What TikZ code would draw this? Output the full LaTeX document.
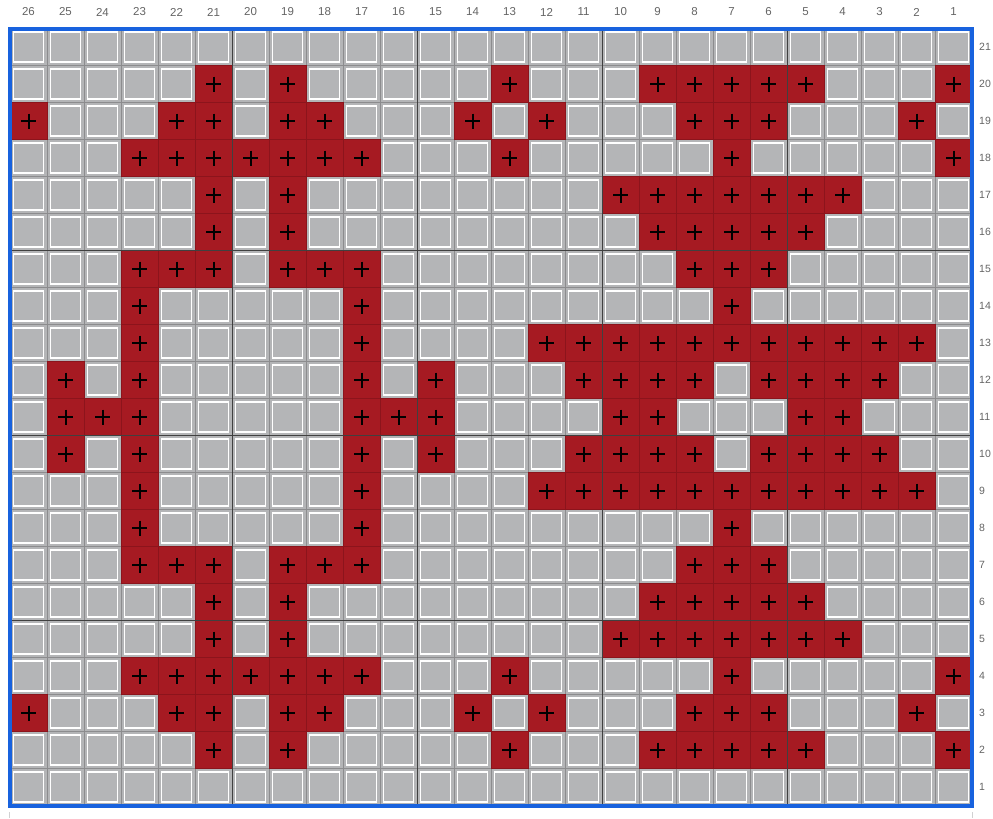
\documentclass[tikz,border=0pt]{standalone}
\usepackage{fontspec}
\setmainfont{Liberation Sans}
\definecolor{cellgray}{RGB}{180,181,183}
\definecolor{gridgray}{RGB}{140,140,142}
\definecolor{cellred}{RGB}{166,26,34}
\definecolor{redline}{RGB}{140,20,28}
\definecolor{frameblue}{RGB}{24,98,222}
\definecolor{labelgray}{RGB}{100,100,100}
\tikzset{
  plain/.style = {fill=cellgray, draw=gridgray, line width=1pt},
  inset/.style = {draw=white, line width=1.8pt},
  knit/.style = {fill=cellred, draw=redline, line width=0.6pt},
  stitch/.style = {draw=black, line width=2pt},
  major/.style = {draw=black!75, line width=1pt},
  frame/.style = {draw=frameblue, line width=4pt},
  lbl/.style = {text=labelgray, inner sep=0pt, font=\fontsize{11.5}{13}\selectfont}
}

\begin{document}
\begin{tikzpicture}[x=1pt, y=-1pt]
  \useasboundingbox (0,0) rectangle (993,819);
  % background cells
  \foreach \r in {1,...,21}
    \foreach \c in {1,...,26} {
      \draw[plain] ({10+(26-\c)*37}, {28.5+(21-\r)*37}) rectangle ++(37,37);
      \draw[inset] ({13.5+(26-\c)*37}, {32+(21-\r)*37}) rectangle ++(30,30);
    }
  % red stitches
  \foreach \r/\cols in {20/{21,19,13,9,8,7,6,5,1}, 19/{26,22,21,19,18,14,12,8,7,6,2},
      18/{23,22,21,20,19,18,17,13,7,1}, 17/{21,19,10,9,8,7,6,5,4}, 16/{21,19,9,8,7,6,5},
      15/{23,22,21,19,18,17,8,7,6}, 14/{23,17,7}, 13/{23,17,12,11,10,9,8,7,6,5,4,3,2},
      12/{25,23,17,15,11,10,9,8,6,5,4,3}, 11/{25,24,23,17,16,15,10,9,5,4},
      10/{25,23,17,15,11,10,9,8,6,5,4,3}, 9/{23,17,12,11,10,9,8,7,6,5,4,3,2},
      8/{23,17,7}, 7/{23,22,21,19,18,17,8,7,6}, 6/{21,19,9,8,7,6,5},
      5/{21,19,10,9,8,7,6,5,4}, 4/{23,22,21,20,19,18,17,13,7,1},
      3/{26,22,21,19,18,14,12,8,7,6,2}, 2/{21,19,13,9,8,7,6,5,1}}
    \foreach \c in \cols {
      \draw[knit] ({10+(26-\c)*37}, {28.5+(21-\r)*37}) rectangle ++(37,37);
      \draw[stitch] ({21+(26-\c)*37}, {47+(21-\r)*37}) -- ++(15,0)
                    ({28.5+(26-\c)*37}, {39.5+(21-\r)*37}) -- ++(0,15);
    }
  % every fifth line
  \foreach \k in {1,...,4} {
    \draw[major] ({10+(1+5*\k)*37}, 28.5) -- ++(0,777);
    \draw[major] (10, {28.5+(1+5*\k)*37}) -- ++(962,0);
  }
  \draw[frame] (10,28.5) rectangle (972,805.5);
  % numbering
  \foreach \c in {1,...,26}
    \node[lbl] (col\c) at ({28.5+(26-\c)*37}, 12) {\c};
  \foreach \r in {1,...,21}
    \node[lbl, anchor=west, font=\fontsize{10.5}{12}\selectfont] (row\r) at (979, {47+(21-\r)*37}) {\r};
  \draw[gridgray!40, line width=0.8pt] (9,812) -- (9,818) (972,812) -- (972,818);
\end{tikzpicture}
\end{document}
